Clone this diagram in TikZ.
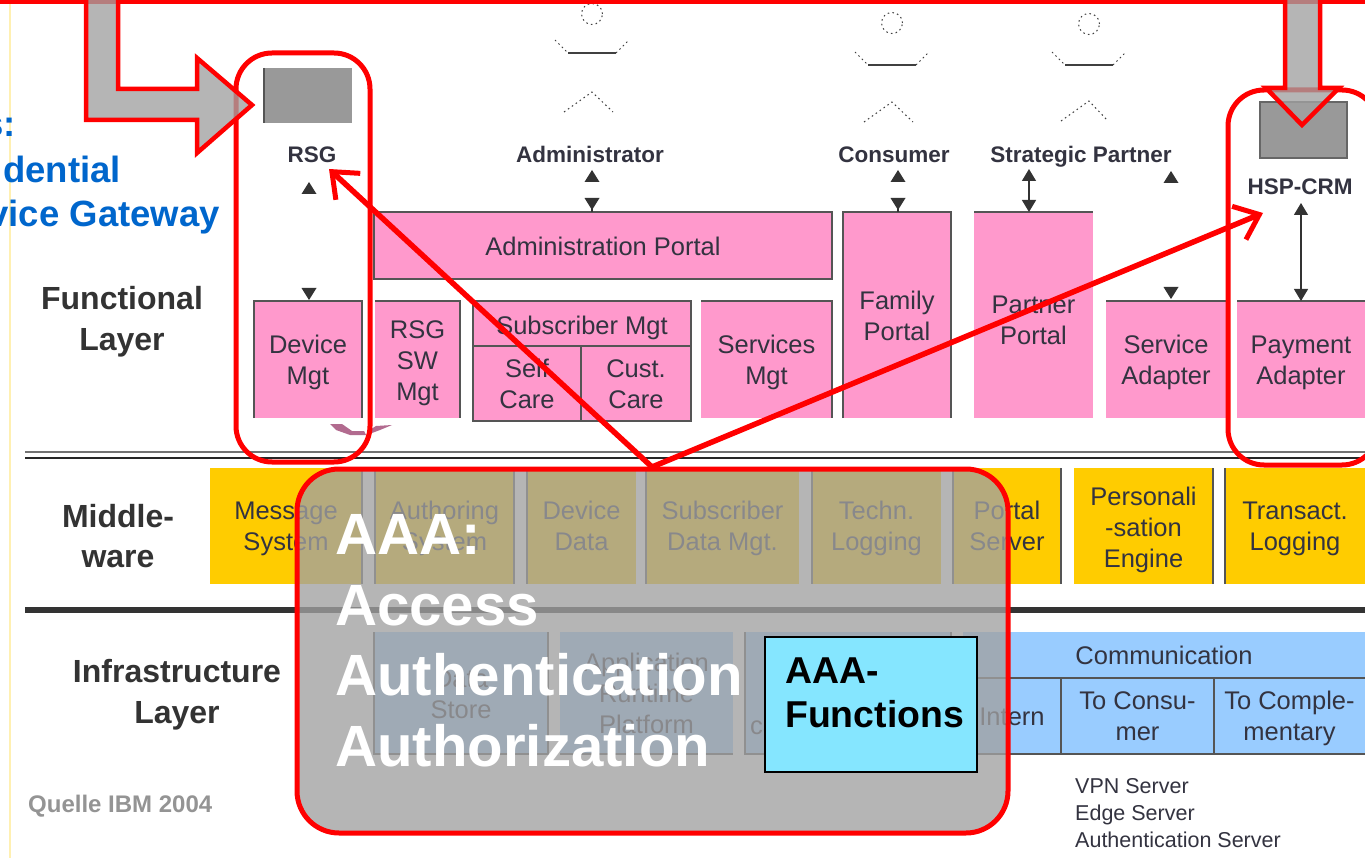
\documentclass[tikz,border=0pt]{standalone}
\usepackage{fontspec}
\setmainfont{Liberation Sans}
\usetikzlibrary{arrows.meta}
\definecolor{pinkf}{HTML}{FF99CC}
\definecolor{yelf}{HTML}{FFCC00}
\definecolor{bluef}{HTML}{99CCFF}
\definecolor{cyanf}{HTML}{85E6FF}
\definecolor{inkc}{HTML}{333340}
\definecolor{edgec}{HTML}{555555}
\definecolor{redc}{HTML}{FF0000}
\definecolor{ovl}{HTML}{A1A1A1}
\definecolor{titleb}{HTML}{0066CC}
\tikzset{
  boxbase/.style={inner sep=0pt,outer sep=0pt,anchor=north west},
  boxtext/.style={inner sep=0pt,outer sep=0pt,align=center,text=inkc,font=\fontsize{25.5}{31}\selectfont},
  pinkbox/.style={boxbase,fill=pinkf},
  yelbox/.style={boxbase,fill=yelf},
  bluebox/.style={boxbase,fill=bluef},
  sideline/.style={draw=edgec,line width=1.4pt},
  actorlabel/.style={anchor=base,font=\bfseries\fontsize{22.5}{26}\selectfont,text=inkc,inner sep=0pt},
  layerlabel/.style={font=\bfseries\fontsize{32}{40.5}\selectfont,text=black!80,align=center,inner sep=0pt},
  captionb/.style={anchor=base east,inner sep=0pt,font=\bfseries\fontsize{36.5}{44}\selectfont,text=titleb},
  serverl/.style={anchor=base west,inner sep=0pt,font=\fontsize{21.5}{27}\selectfont,text=inkc},
  redrect/.style={draw=redc,line width=5pt,rounded corners=36pt},
  blockarrow/.style={fill=ovl,fill opacity=.78,draw=redc,draw opacity=1,line width=4.5pt,miter limit=10},
  redarrow/.style={draw=redc,line width=5.5pt,-{Straight Barb[length=22pt,width=36pt,line width=5pt]}},
  smallarrow/.style={draw=black!80,line width=1.3pt,{Triangle[length=12pt,width=14pt]}-{Triangle[length=12pt,width=14pt]}},
  tri/.style={fill=black!80},
  dots/.style={draw=black!75,line width=1pt,dash pattern=on 1.6pt off 3.2pt},
  solidl/.style={draw=black!75,line width=1.3pt},
}
% [text shift]{style}{x1}{y1}{x2}{y2}{text}; the node is named by x1y1
\newcommand{\mybx}[6][3.5]{%
  \node[#2,minimum width={(#5-#3)*1pt},minimum height={(#6-#4)*1pt}] (#3#4) at (#3,#4) {};
}
\newcommand{\mybxt}[7][3.5]{%
  \node[#2,minimum width={(#5-#3)*1pt},minimum height={(#6-#4)*1pt}] (#3#4) at (#3,#4) {};
  \node[boxtext] (#3#4t) at ([yshift=-#1pt]#3#4.center) {\strut #7\strut};
}
\newcommand{\upt}[2]{\fill[tri] (#1,#2-12) -- (#1+7.5,#2) -- (#1-7.5,#2) -- cycle;}
\newcommand{\dnt}[2]{\fill[tri] (#1-7.5,#2-12) -- (#1+7.5,#2-12) -- (#1,#2) -- cycle;}
\newcommand{\actor}[5]{% cx, head y, arms y, legs y, right leg end
  \draw[dots] (#1,#2) circle (10.5pt);
  \draw[dots] (#1-37,#3-13) -- (#1-24,#3);
  \draw[solidl] (#1-24,#3) -- (#1+24,#3);
  \draw[dots] (#1+24,#3) -- (#1+37,#3-13);
  \draw[dots] (#1-28,#4) -- (#1,#4-20) -- (#1+#5,#4);
}
\begin{document}
\begin{tikzpicture}[x=1pt,y=-1pt]
\useasboundingbox (0,0) rectangle (1365,858);
\clip (0,0) rectangle (1365,858);
\fill[white] (0,0) rectangle (1365,858);
\draw[draw=yelf!30,line width=1.6pt] (10,0) -- (10,858);

% left captions
\node[captionb] (t1) at (16,137) {s:};
\node[captionb] (t2) at (121,183) {dential};
\node[captionb] (t3) at (220,227) {vice Gateway};

% layer separators
\draw[draw=black!55,line width=1.6pt] (25,452) -- (1365,452);
\draw[draw=black!85,line width=2.6pt] (25,458) -- (1365,458);
\draw[draw=black!80,line width=6pt] (25,610) -- (1365,610);

% layer labels
\node[layerlabel] (lf) at (122,321.5) {Functional\\Layer};
\node[layerlabel] (lm) at (118,536) {Middle-\\ware};
\node[layerlabel] (li) at (177,694.5) {Infrastructure\\Layer};

% devices
\node[fill=black!40,minimum width=88pt,minimum height=55pt,inner sep=0pt,anchor=north west] (rsgdev) at (264,68) {};
\draw[sideline] (rsgdev.north west) -- (rsgdev.south west);
\node[fill=black!40,draw=black!60,line width=1.6pt,minimum width=87pt,minimum height=56pt,inner sep=0pt,anchor=north west] (hspdev) at (1259,101) {};

% actors
\actor{592}{14}{53}{112}{21}
\actor{892}{23}{65}{122}{21}
\actor{1089}{24}{65}{121}{19}

% actor labels
\node[actorlabel] (rsg) at (312,163) {RSG};
\node[actorlabel] (adm) at (590,163) {Administrator};
\node[actorlabel] (con) at (894,163) {Consumer};
\node[actorlabel] (sp) at (1081,163) {Strategic Partner};
\node[actorlabel] (hsp) at (1300,195) {HSP-CRM};

% pink boxes
\mybxt{pinkbox}{374}{212}{832}{279}{Administration Portal}
\mybxt{pinkbox}{254}{301}{362}{418}{Device\\Mgt}
\mybxt{pinkbox}{375}{301}{460}{418}{RSG\\SW\\Mgt}
\mybxt[5.3]{pinkbox}{473}{301}{691}{346}{Subscriber Mgt}
\mybxt{pinkbox}{473}{346}{581}{421}{Self\\Care}
\mybxt{pinkbox}{581}{346}{691}{421}{Cust.\\Care}
\mybxt{pinkbox}{701}{301}{832}{418}{Services\\Mgt}
\mybxt{pinkbox}{843}{212}{951}{418}{Family\\Portal}
\mybxt[7.8]{pinkbox}{974}{212}{1093}{418}{Partner\\Portal}
\mybxt{pinkbox}{1106}{301}{1226}{418}{Service\\Adapter}
\mybxt{pinkbox}{1237}{301}{1365}{418}{Payment\\Adapter}
\draw[sideline] (374212.north west) rectangle (374212.south east);
\draw[sideline] (254301.south west) -- (254301.north west) -- (254301.north east) -- (254301.south east);
\draw[sideline] (375301.north west) -- (375301.north east) -- (375301.south east);
\draw[sideline] (473301.south west) -- (473301.north west) -- (473301.north east) -- (473301.south east);
\draw[sideline] (473301.south west) -- (473301.south east);
\draw[sideline] (473346.north west) -- (473346.south west) -- (473346.south east) -- (473346.north east);
\draw[sideline] (581346.south west) -- (581346.south east) -- (581346.north east);
\draw[sideline] (701301.north west) -- (701301.north east) -- (701301.south east);
\draw[sideline] (843212.south west) -- (843212.north west) -- (843212.north east) -- (843212.south east);
\draw[sideline] (974212.north west) -- (974212.north east);
\draw[sideline] (1106301.north west) -- (1106301.north east);
\draw[sideline] (1237301.north west) -- (1237301.north east);

% smudge below the device box
\fill[fill=pinkf!70!black] (330,424) -- (342,424) -- (352,431) -- (364,431) -- (366,435) -- (350,435) -- (336,430) -- cycle;
\fill[fill=pinkf!70!black] (368,431) -- (376,426) -- (392,425) -- (380,430) -- (372,433) -- cycle;

% yellow boxes
\mybxt[3]{yelbox}{210}{468}{362}{584}{Message\\System}
\mybxt[3]{yelbox}{375}{468}{514}{584}{Authoring\\System}
\mybxt[3]{yelbox}{527}{468}{636}{584}{Device\\Data}
\mybxt[3]{yelbox}{646}{468}{799}{584}{Subscriber\\Data Mgt.}
\mybxt[3]{yelbox}{812}{468}{941}{584}{Techn.\\Logging}
\mybxt[3]{yelbox}{953}{468}{1061}{584}{Portal\\Server}
\mybxt[3.8]{yelbox}{1074}{468}{1213}{584}{Personali\\-sation\\Engine}
\mybxt[3]{yelbox}{1225}{468}{1365}{584}{Transact.\\Logging}
\foreach \n in {375468,527468,646468,812468,953468,1225468}{\draw[sideline] (\n.north west) -- (\n.south west);}
\foreach \n in {210468,375468,953468,1074468}{\draw[sideline] (\n.north east) -- (\n.south east);}

% blue boxes
\mybxt{bluebox}{374}{632}{548}{754}{Data\\Store}
\mybxt{bluebox}{560}{632}{733}{754}{Application\\Runtime\\Platform}
\mybx{bluebox}{745}{632}{951}{754}
\mybxt{bluebox}{963}{632}{1365}{678}{Communication}
\mybxt{bluebox}{963}{678}{1061}{754}{Intern}
\mybxt[2.8]{bluebox}{1061}{678}{1214}{754}{To Consu-\\mer}
\mybxt[2.8]{bluebox}{1214}{678}{1365}{754}{To Comple-\\mentary}
\draw[sideline] (963678.north east) -- (963678.south east);
\draw[sideline] (1061678.north east) -- (1061678.south east);
\draw[sideline] (963632.south west) -- (963632.south east);
\draw[sideline] (963678.south west) -- (1214678.south east);
\draw[sideline] (374632.north west) -- (374632.south west) -- (374632.south east) -- (374632.north east);
\draw[sideline] (560632.south west) -- (560632.south east);
\draw[sideline] (745632.north west) -- (745632.south west) -- (745632.south east) -- (745632.north east);
\node[boxtext,anchor=base west] (cap) at (750,734) {ca};

% server list
\node[serverl] (s1) at (1075,793) {VPN Server};
\node[serverl] (s2) at (1075,820) {Edge Server};
\node[serverl] (s3) at (1075,847) {Authentication Server};

% small connectors and triangles
\upt{309}{194}
\dnt{309}{300}
\upt{592}{182}
\dnt{592}{210}
\upt{898}{182}
\dnt{898}{210}
\draw[draw=black!80,line width=1.3pt] (592,208) -- (374212.north -| 592,0);
\draw[draw=black!80,line width=1.3pt] (898,208) -- (843212.north -| 898,0);
\coordinate (spup) at (1029,169);
\coordinate (hspup) at (1301,203);
\draw[smallarrow] (spup) -- (974212.north -| spup);
\upt{1171}{183}
\dnt{1171}{299}
\draw[smallarrow] (hspup) -- (1237301.north -| hspup);

% AAA overlay
\node[inner sep=0pt,outer sep=0pt,minimum width=711pt,minimum height=364pt,anchor=north west,fill=ovl,fill opacity=.78,rounded corners=42pt] (aaa) at (297,469) {};
\draw[redrect,rounded corners=42pt] (aaa.north west) rectangle (aaa.south east);

\foreach \t/\y in {AAA:/554,Access/625,Authentication/695,Authorization/766}{
  \node[anchor=base west,inner sep=0pt,font=\bfseries\fontsize{58.2}{70}\selectfont,text=white] at (335,\y) {\t};
}

\node[inner sep=0pt,outer sep=0pt,minimum width=212pt,minimum height=135pt,anchor=north west,fill=cyanf,draw=black,line width=2.6pt] (fn) at (765,637) {};
\node[anchor=base west,inner sep=0pt,font=\bfseries\fontsize{37.4}{44}\selectfont,text=black] (fn1) at (785,683) {AAA-};
\node[anchor=base west,inner sep=0pt,font=\bfseries\fontsize{37.4}{44}\selectfont,text=black] (fn2) at (785,727) {Functions};

\node[anchor=base west,inner sep=0pt,font=\bfseries\fontsize{24}{28}\selectfont,text=black!42] (src) at (28,812) {Quelle IBM 2004};

% highlight frames
\node[inner sep=0pt,outer sep=0pt,minimum width=134pt,minimum height=409pt,anchor=north west] (frl) at (236,53) {};
\node[inner sep=0pt,outer sep=0pt,minimum width=150pt,minimum height=375pt,anchor=north west] (frr) at (1228,90) {};
\draw[redrect] (frl.north west) rectangle (frl.south east);
\draw[redrect] (frr.north west) rectangle (frr.south east);

% top bar and block arrows
\draw[draw=redc,line width=4.5pt] (0,1.5) -- (1365,1.5);
\draw[blockarrow] (86,-6) -- (86,120) -- (197,120) -- (197,153) -- (252,105) -- (197,58) -- (197,89) -- (118,89) -- (118,-6) -- cycle;
\draw[blockarrow] (1285,-6) -- (1285,88) -- (1266,88) -- (1302,125) -- (1339,88) -- (1320,88) -- (1320,-6) -- cycle;

% red arrows
\coordinate (hub) at (652,467);
\coordinate (rsgtip) at (329,169);
\coordinate (hsptip) at (1263,213);
\draw[redarrow] (hub) -- (rsgtip);
\draw[redarrow] (hub) -- (hsptip);
\end{tikzpicture}
\end{document}
